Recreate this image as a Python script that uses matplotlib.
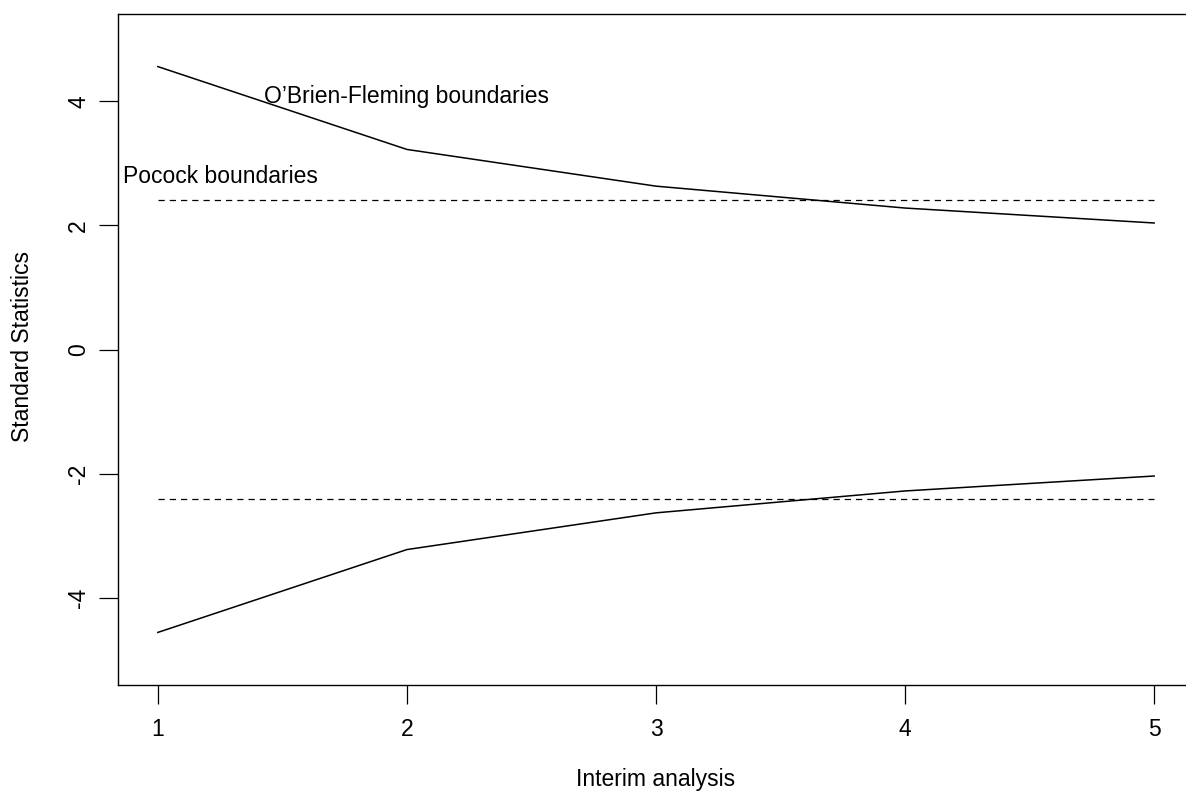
import matplotlib
matplotlib.use("Agg")
import matplotlib.pyplot as plt

analysis = [1, 2, 3, 4, 5]
obf_upper = [4.562, 3.226, 2.634, 2.281, 2.040]
obf_lower = [-4.562, -3.226, -2.634, -2.281, -2.040]
pocock_upper = [2.413, 2.413, 2.413, 2.413, 2.413]
pocock_lower = [-2.413, -2.413, -2.413, -2.413, -2.413]
yticks = [-4, -2, 0, 2, 4]

plt.rcParams['font.family'] = ['Liberation Sans', 'DejaVu Sans']
FS = 16.5
W, H = 1186, 795
fig = plt.figure(figsize=(W/100, H/100), dpi=100)
left, right, top, bottom = 118, 1194, 14, 685
ax = fig.add_axes([left/W, 1-bottom/H, (right-left)/W, (bottom-top)/H])
ax.plot(analysis, obf_upper, color='black', lw=1.1)
ax.plot(analysis, obf_lower, color='black', lw=1.1)
ax.plot(analysis, pocock_upper, color='black', lw=0.9, dashes=(5, 4))
ax.plot(analysis, pocock_lower, color='black', lw=0.9, dashes=(5, 4))
ax.set_xlim(0.84, 5.16)
ax.set_ylim(-5.41, 5.41)
ax.set_xticks(analysis)
ax.set_yticks(yticks)
ax.set_yticklabels([str(v) for v in yticks], rotation=90, va='center')
ax.tick_params(axis='both', length=14, width=0.9, labelsize=FS)
ax.tick_params(axis='x', pad=10)
ax.tick_params(axis='y', pad=6)
for s in ax.spines.values():
    s.set_linewidth(1.0)
ax.text(2.0, 4.08, "O\u2019Brien-Fleming boundaries", ha='center', va='center', fontsize=FS)
ax.text(1.25, 2.79, "Pocock boundaries", ha='center', va='center', fontsize=FS)
fig.text(656/W, 1-786/H, "Interim analysis", ha='center', va='baseline', fontsize=FS)
fig.text(23/W, 1-347/H, "Standard Statistics", ha='center', va='center', rotation=90, fontsize=FS)
fig.savefig("out.png", dpi=100)
